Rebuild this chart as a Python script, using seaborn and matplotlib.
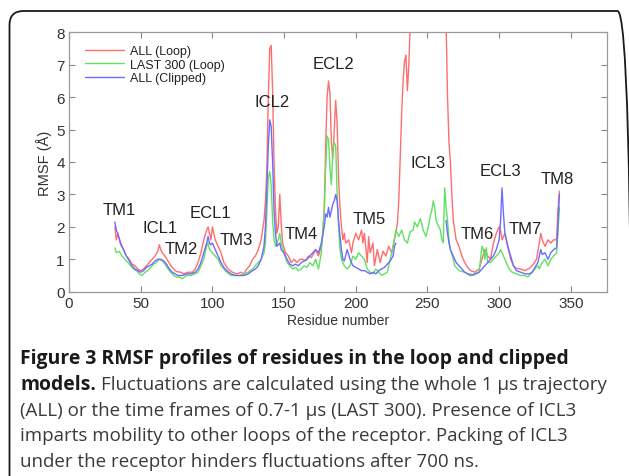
import numpy as np
import pandas as pd
import matplotlib
matplotlib.use("Agg")
import matplotlib.pyplot as plt
import seaborn as sns
from matplotlib.patches import FancyBboxPatch
from matplotlib.lines import Line2D
from matplotlib.transforms import IdentityTransform

# ---------------- data ----------------
series_names = ["ALL (Loop)", "LAST 300 (Loop)", "ALL (Clipped)"]
series_colors = ["#ff6e6e", "#62e062", "#6c6cff"]

res_all_loop = [
    32, 33, 34, 36, 38, 40, 42, 44, 46, 48,
    50, 52, 54, 56, 58, 60, 62, 63, 64, 65,
    67, 69, 71, 73, 75, 78, 80, 83, 86, 88,
    90, 92, 94, 96, 97, 98, 99, 100, 101, 102,
    104, 106, 108, 111, 114, 117, 120, 122, 124, 126,
    128, 130, 132, 134, 136, 137, 138, 139, 140, 141,
    142, 143, 144, 145, 146, 147, 148, 149, 151, 153,
    155, 157, 159, 161, 163, 165, 167, 169, 171, 172,
    174, 176, 177, 178, 179, 180, 181, 182, 183, 184,
    185, 186, 187, 188, 189, 190, 191, 192, 193, 195,
    197, 198, 200, 202, 204, 205, 206, 208, 209, 210,
    212, 213, 215, 217, 219, 221, 223, 225, 227, 229,
    230, 231, 232, 233, 234, 235, 236, 237, 238, 240,
    245, 250, 255, 260, 262, 263, 264, 265, 266, 267,
    268, 270, 272, 274, 276, 278, 280, 283, 286, 288,
    290, 292, 294, 296, 298, 300, 301, 302, 303, 304,
    306, 308, 310, 312, 315, 318, 321, 324, 326, 328,
    329, 330, 332, 334, 336, 338, 340, 341, 342]
rmsf_all_loop = [
    2.0, 1.6, 1.8, 1.45, 1.3, 1.1, 1.0, 0.85, 0.8, 0.7,
    0.65, 0.7, 0.8, 0.9, 1.0, 1.1, 1.25, 1.45, 1.3, 1.2,
    1.1, 0.95, 0.8, 0.7, 0.62, 0.6, 0.55, 0.6, 0.6, 0.7,
    0.9, 1.2, 1.6, 1.9, 2.0, 1.8, 1.6, 2.0, 1.8, 1.6,
    1.4, 1.2, 0.9, 0.7, 0.6, 0.55, 0.6, 0.55, 0.7, 0.8,
    1.0, 1.1, 1.3, 1.6, 2.2, 2.8, 3.8, 6.0, 7.5, 7.6,
    6.2, 4.0, 2.5, 1.8, 2.0, 3.0, 2.1, 1.5, 1.2, 1.1,
    0.9, 1.0, 0.9, 1.0, 1.0, 0.95, 1.1, 1.05, 1.2, 1.3,
    1.1, 1.4, 1.8, 2.5, 4.5, 6.0, 6.5, 6.1, 4.6, 4.1,
    5.0, 5.9, 5.2, 3.5, 2.6, 2.0, 1.6, 1.8, 1.5, 1.6,
    1.2, 1.5, 1.8, 1.6, 1.9, 1.5, 1.8, 0.9, 1.7, 1.2,
    1.5, 0.8, 1.3, 0.9, 1.25, 1.1, 1.4, 1.2, 1.6, 2.1,
    2.8, 4.2, 5.5, 6.5, 7.1, 7.3, 6.2, 7.0, 8.3, 10.0,
    11.5, 12.0, 11.5, 10.0, 9.0, 8.2, 6.0, 4.6, 4.0, 3.0,
    2.2, 1.6, 1.4, 1.1, 0.9, 0.75, 0.65, 0.6, 0.7, 1.0,
    1.3, 1.1, 1.0, 1.5, 1.8, 2.0, 1.9, 1.6, 1.7, 1.8,
    1.4, 1.0, 0.8, 0.72, 0.7, 0.65, 0.72, 0.85, 1.0, 1.5,
    1.8, 1.6, 1.4, 1.6, 1.5, 1.6, 1.6, 2.5, 3.1]

res_last300_loop = [
    32, 33, 35, 37, 39, 41, 43, 45, 47, 49,
    51, 53, 55, 57, 59, 61, 63, 65, 67, 69,
    71, 73, 75, 77, 79, 82, 85, 88, 90, 92,
    94, 96, 97, 98, 100, 102, 104, 106, 108, 110,
    113, 116, 119, 122, 125, 128, 130, 132, 134, 136,
    137, 138, 139, 140, 141, 142, 143, 144, 146, 147,
    148, 150, 152, 154, 156, 158, 160, 162, 164, 166,
    168, 170, 172, 174, 176, 178, 179, 180, 181, 182,
    183, 184, 185, 186, 187, 188, 189, 190, 192, 194,
    196, 198, 200, 202, 204, 206, 208, 210, 212, 214,
    216, 218, 220, 222, 224, 226, 228, 230, 232, 234,
    236, 237, 238, 240, 241, 243, 245, 246, 247, 249,
    251, 252, 253, 254, 255, 256, 258, 259, 260, 261,
    262, 263, 264, 265, 266, 268, 269, 272, 276, 278,
    280, 282, 284, 286, 288, 289, 290, 291, 292, 294,
    296, 298, 300, 301, 303, 305, 307, 309, 312, 315,
    318, 320, 322, 325, 327, 328, 330, 332, 334, 336,
    338, 340, 341, 342]
rmsf_last300_loop = [
    1.35, 1.2, 1.25, 1.1, 1.0, 0.9, 0.8, 0.7, 0.65, 0.55,
    0.5, 0.6, 0.65, 0.75, 0.85, 0.9, 1.0, 0.95, 0.85, 0.7,
    0.6, 0.5, 0.45, 0.45, 0.4, 0.5, 0.5, 0.55, 0.6, 0.8,
    1.0, 1.4, 1.5, 1.3, 1.2, 1.1, 1.0, 0.8, 0.7, 0.6,
    0.5, 0.5, 0.5, 0.55, 0.6, 0.7, 0.8, 0.9, 1.0, 1.2,
    1.5, 2.5, 3.5, 3.7, 3.3, 2.2, 1.6, 1.4, 1.6, 1.8,
    1.5, 1.2, 0.9, 0.8, 0.7, 0.75, 0.65, 0.7, 0.8, 0.75,
    0.9, 0.8, 1.0, 0.7, 1.2, 2.5, 3.8, 4.8, 4.7, 3.8,
    3.3, 4.4, 4.6, 4.5, 3.0, 2.0, 1.3, 1.0, 0.8, 0.7,
    0.8, 1.1, 1.0, 1.2, 1.1, 1.0, 0.7, 0.6, 0.55, 0.7,
    0.6, 0.5, 0.55, 0.6, 1.0, 1.4, 1.9, 1.7, 1.9, 1.6,
    1.5, 1.7, 1.85, 1.9, 2.15, 2.0, 2.25, 2.1, 1.9, 1.7,
    2.1, 2.35, 2.5, 2.8, 2.6, 2.2, 2.0, 1.9, 1.6, 1.5,
    3.2, 2.6, 2.2, 1.6, 1.3, 1.0, 0.8, 0.65, 0.6, 0.55,
    0.55, 0.5, 0.55, 0.6, 1.4, 1.3, 1.0, 1.35, 0.9, 0.9,
    1.0, 1.1, 1.2, 1.3, 1.1, 0.9, 0.7, 0.6, 0.55, 0.5,
    0.5, 0.45, 0.55, 0.7, 0.8, 0.7, 0.9, 1.0, 0.8, 1.0,
    1.1, 1.2, 1.8, 2.6]

# clipped model: ICL3 removed, so two segments
res_all_clipped_a = [
    32, 33, 34, 36, 38, 40, 42, 44, 46, 48,
    50, 52, 54, 56, 58, 60, 62, 64, 66, 68,
    70, 72, 74, 76, 79, 82, 85, 88, 90, 92,
    94, 96, 97, 98, 99, 100, 102, 104, 106, 108,
    110, 113, 116, 119, 122, 125, 128, 130, 132, 134,
    136, 137, 138, 139, 140, 141, 142, 143, 144, 145,
    146, 147, 148, 150, 152, 154, 156, 158, 160, 162,
    164, 166, 168, 170, 172, 174, 176, 178, 179, 180,
    181, 182, 183, 184, 185, 186, 187, 188, 189, 190,
    191, 192, 194, 196, 198, 200, 202, 204, 206, 208,
    210, 212, 214, 216, 218, 220, 222, 224, 226, 227,
    228]
rmsf_all_clipped_a = [
    2.15, 1.9, 1.8, 1.5, 1.3, 1.1, 0.95, 0.8, 0.7, 0.65,
    0.6, 0.65, 0.75, 0.8, 0.85, 0.95, 1.0, 1.0, 0.95, 0.85,
    0.7, 0.6, 0.55, 0.5, 0.5, 0.55, 0.55, 0.6, 0.7, 0.9,
    1.2, 1.5, 1.7, 1.5, 1.45, 1.5, 1.3, 1.1, 0.9, 0.75,
    0.65, 0.55, 0.5, 0.5, 0.5, 0.55, 0.65, 0.7, 0.8, 1.0,
    1.4, 2.0, 3.2, 4.5, 5.3, 5.1, 4.0, 2.5, 1.8, 1.4,
    1.45, 1.5, 1.3, 1.2, 1.0, 0.85, 0.8, 0.85, 0.8, 0.9,
    0.95, 1.0, 1.1, 1.2, 1.3, 1.2, 1.5, 2.0, 2.4, 2.3,
    2.6, 2.3, 2.5, 2.7, 2.8, 3.0, 2.8, 2.2, 1.7, 1.3,
    1.0, 0.95, 1.3, 1.0, 0.8, 0.75, 0.7, 0.65, 0.65, 0.6,
    0.55, 0.6, 0.55, 0.65, 0.7, 0.75, 0.85, 0.95, 1.1, 1.4,
    1.5]
res_all_clipped_b = [
    263, 264, 265, 266, 268, 270, 272, 274, 276, 278,
    280, 283, 286, 288, 290, 292, 294, 296, 298, 300,
    301, 302, 303, 304, 306, 308, 310, 312, 315, 318,
    321, 323, 325, 327, 329, 330, 332, 334, 336, 338,
    340, 341, 342]
rmsf_all_clipped_b = [
    2.2, 1.8, 1.5, 1.3, 1.1, 0.9, 0.8, 0.7, 0.6, 0.55,
    0.5, 0.55, 0.6, 0.7, 0.8, 0.9, 1.0, 1.1, 1.3, 1.6,
    2.2, 3.2, 2.4, 1.8, 1.4, 1.1, 0.8, 0.65, 0.6, 0.55,
    0.55, 0.6, 0.75, 0.9, 1.3, 1.15, 1.2, 1.0, 1.2, 1.3,
    1.35, 2.0, 3.0]

region_labels = ["TM1", "ICL1", "TM2", "ECL1", "TM3", "ICL2", "TM4",
                 "ECL2", "TM5", "ICL3", "TM6", "ECL3", "TM7", "TM8"]
region_x = [35, 63.5, 78.6, 98.8, 116.5, 141.4, 162.3,
            184.4, 209.5, 250.2, 284.4, 301.2, 318.3, 340.2]
region_y = [2.53, 1.97, 1.32, 2.45, 1.6, 5.86, 1.78,
            7.03, 2.27, 3.99, 1.78, 3.73, 1.94, 3.48]

x_ticks = [0, 50, 100, 150, 200, 250, 300, 350]
y_ticks = [0, 1, 2, 3, 4, 5, 6, 7, 8]

caption_line1 = "Figure 3 RMSF profiles of residues in the loop and clipped"
caption_line2_bold = "models."
caption_line2_rest = "Fluctuations are calculated using the whole 1 \u00b5s trajectory"
caption_rest_lines = [
    "(ALL) or the time frames of 0.7-1 \u00b5s (LAST 300). Presence of ICL3",
    "imparts mobility to other loops of the receptor. Packing of ICL3",
    "under the receptor hinders fluctuations after 700 ns.",
]

# ---------------- build long table ----------------
frames = []
for name, seg, rr, vv in [
    (series_names[0], "a0", res_all_loop, rmsf_all_loop),
    (series_names[1], "b0", res_last300_loop, rmsf_last300_loop),
    (series_names[2], "c0", res_all_clipped_a, rmsf_all_clipped_a),
    (series_names[2], "c1", res_all_clipped_b, rmsf_all_clipped_b),
]:
    assert len(rr) == len(vv), (name, seg, len(rr), len(vv))
    frames.append(pd.DataFrame({"residue": rr, "rmsf": vv, "series": name, "seg": seg}))
df = pd.concat(frames, ignore_index=True)

# ---------------- figure ----------------
sns.set_theme(style="white")
plt.rcParams['font.family'] = ['Liberation Sans', 'DejaVu Sans']

W, H = 629, 477
fig = plt.figure(figsize=(W / 100, H / 100), dpi=100)
fig.patch.set_facecolor("white")

# rounded frame around the figure panel (open at the bottom, right edge just off-canvas)
box = FancyBboxPatch((9.5, -40), 622, 465 + 40,
                     boxstyle="round,pad=0,rounding_size=14",
                     transform=IdentityTransform(), facecolor="none",
                     edgecolor="#1a1a1a", linewidth=1.3)
fig.add_artist(box)

ax_l, ax_r, ax_t, ax_b = 69, 606.7, 33.3, 292.7
ax = fig.add_axes([ax_l / W, 1 - ax_b / H, (ax_r - ax_l) / W, (ax_b - ax_t) / H])

pal = dict(zip(series_names, series_colors))
sns.lineplot(data=df, x="residue", y="rmsf", hue="series", units="seg",
             estimator=None, sort=False, palette=pal, linewidth=1.0,
             legend=False, ax=ax, hue_order=series_names)

ax.set_xlim(0, 375)
ax.set_ylim(0, 8)
ax.set_xticks(x_ticks)
ax.set_yticks(y_ticks)
ax.tick_params(axis="both", which="both", direction="in", length=4, width=0.8,
               colors="#888888", labelcolor="#333333", labelsize=11,
               top=True, right=True, left=True, bottom=True, pad=3)
for sp in ax.spines.values():
    sp.set_color("#9a9a9a")
    sp.set_linewidth(0.9)
ax.set_xlabel("Residue number", fontsize=10, color="#333333", labelpad=2)
ax.set_ylabel("RMSF (\u00c5)", fontsize=10.5, color="#333333", labelpad=3)

for lab, xx, yy in zip(region_labels, region_x, region_y):
    ax.text(xx, yy, lab, ha="center", va="center", fontsize=12, color="#222222")

handles = [Line2D([], [], color=c, lw=1.0) for c in series_colors]
leg = ax.legend(handles, series_names, loc="upper left", frameon=False,
                fontsize=9, handlelength=3.1, handletextpad=0.5,
                labelspacing=0.12, borderaxespad=0,
                bbox_to_anchor=(0.02, 0.97))
for t in leg.get_texts():
    t.set_color("#222222")

# ---------------- caption ----------------
cap_font = ['Open Sans', 'DejaVu Sans']
x0 = 20
baselines = [364, 390, 416, 441.5, 467]
renderer = fig.canvas.get_renderer()


def fit_size(txt, target_px):
    w = txt.get_window_extent(renderer=renderer).width
    txt.set_fontsize(txt.get_fontsize() * target_px / w)


t1 = fig.text(x0 / W, 1 - baselines[0] / H, caption_line1, fontsize=14.5,
              fontweight="bold", family=cap_font, color="#1a1a1a", va="baseline")
fit_size(t1, 548)
bold_size = t1.get_fontsize()

regs = []
for line, bl in zip(caption_rest_lines, baselines[2:]):
    regs.append(fig.text(x0 / W, 1 - bl / H, line, fontsize=14.5, family=cap_font,
                         color="#3a3a3a", va="baseline"))
fit_size(regs[0], 556)
reg_size = regs[0].get_fontsize()
for r in regs[1:]:
    r.set_fontsize(reg_size)

tb = fig.text(x0 / W, 1 - baselines[1] / H, caption_line2_bold, fontsize=bold_size,
              fontweight="bold", family=cap_font, color="#1a1a1a", va="baseline")
bb = tb.get_window_extent(renderer=renderer)
fig.text((bb.x1 + 5) / W, 1 - baselines[1] / H, caption_line2_rest, fontsize=reg_size,
         family=cap_font, color="#3a3a3a", va="baseline")

fig.savefig("out.png", dpi=100, facecolor="white")
